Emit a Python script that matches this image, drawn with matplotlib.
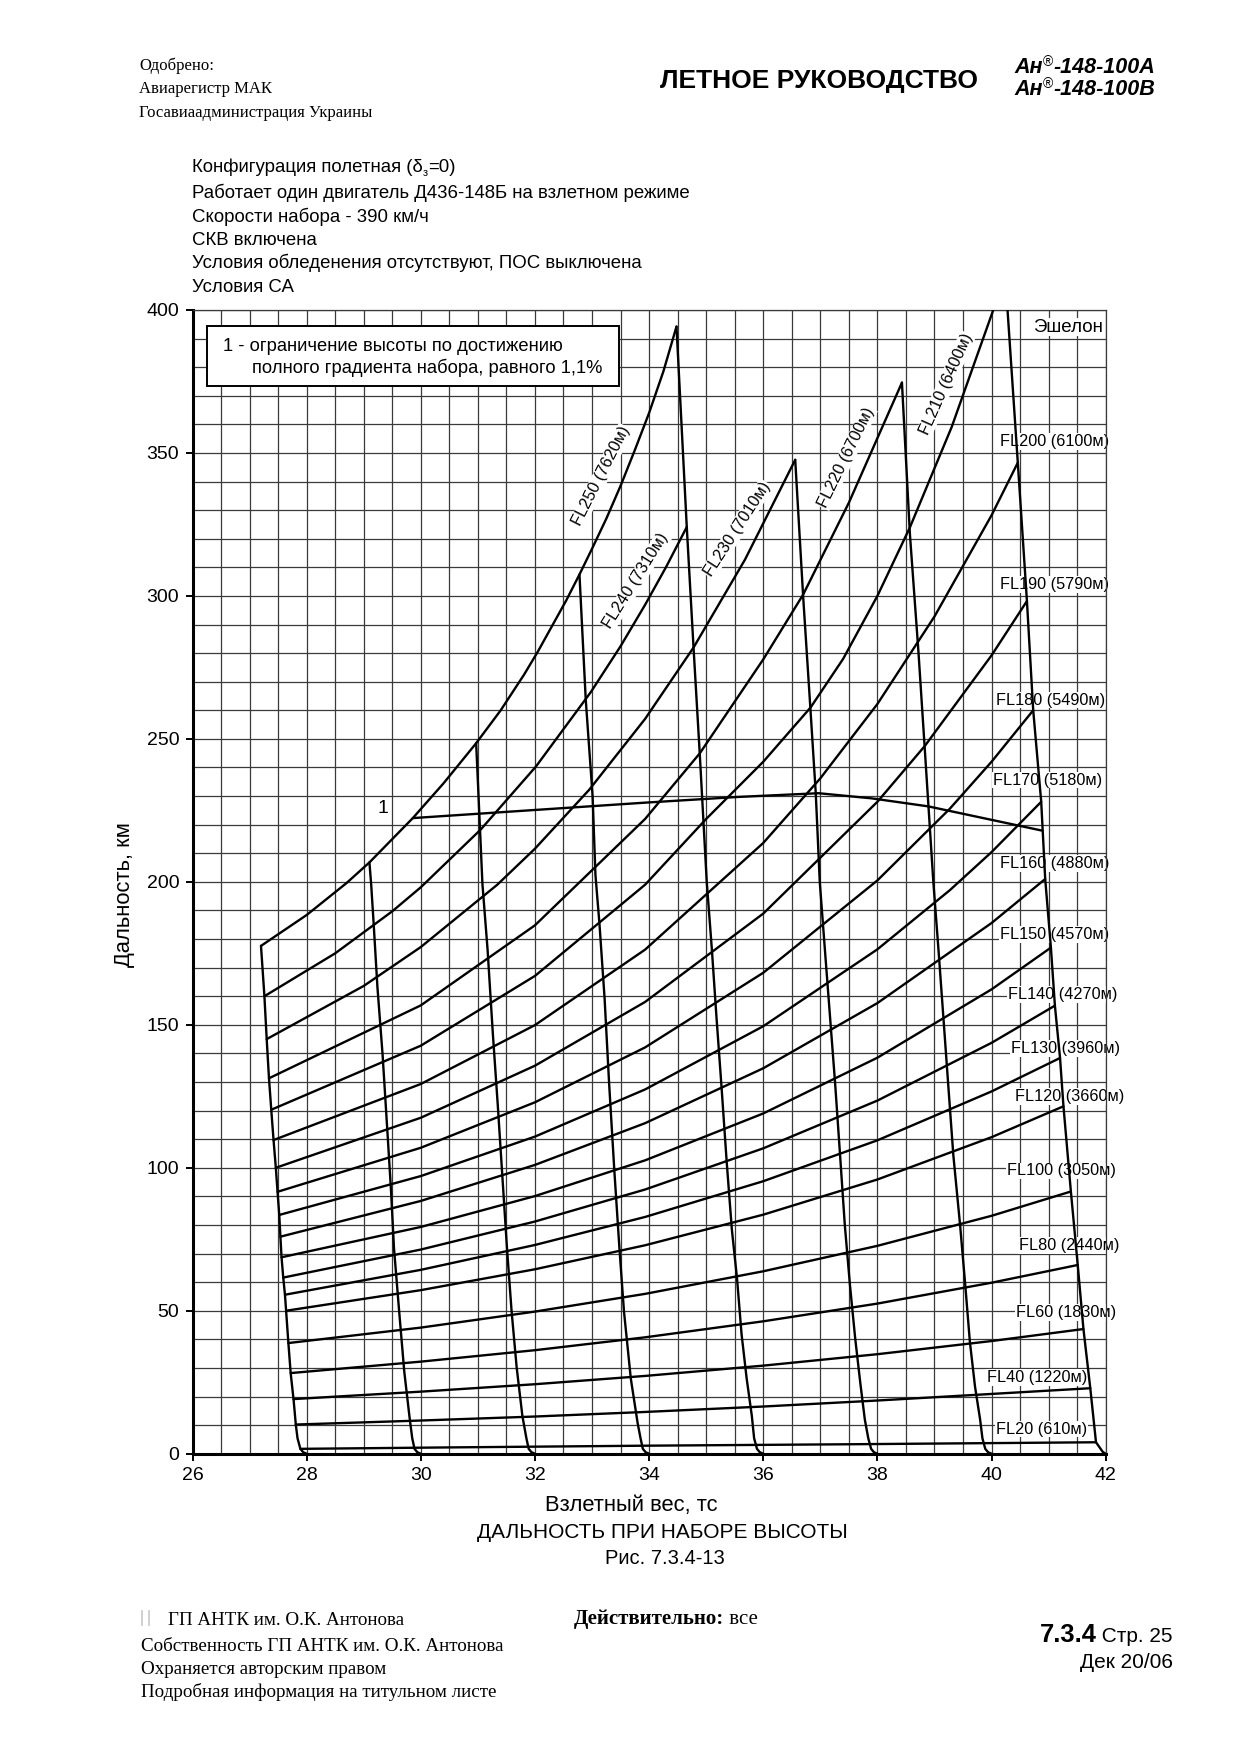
import matplotlib
matplotlib.use("Agg")
import matplotlib.pyplot as plt
from matplotlib.patches import Rectangle
from matplotlib.lines import Line2D
from matplotlib.ticker import MultipleLocator

plt.rcParams['font.family'] = ['Liberation Sans', 'DejaVu Sans']

# ------------------------------------------------------------------ data
x_ticks = [26, 28, 30, 32, 34, 36, 38, 40, 42]
y_ticks = [0, 50, 100, 150, 200, 250, 300, 350, 400]

# flight-level curves: takeoff weight (t) -> climb distance (km)
fl20_w = [27.89, 30.5, 33.93, 37.5, 41.83]
fl20_d = [1.7, 2.2, 2.8, 3.3, 4.0]
fl40_w = [27.81, 30, 32, 33.93, 36, 38, 40, 41.73]
fl40_d = [10.2, 11.6, 13.0, 14.6, 16.5, 18.6, 20.9, 22.9]
fl60_w = [27.77, 30, 32, 33.93, 36, 38, 40, 41.61]
fl60_d = [19.1, 21.7, 24.3, 27.2, 30.8, 34.8, 39.4, 43.6]
fl80_w = [27.72, 30, 32, 33.93, 36, 38, 40, 41.51]
fl80_d = [28.2, 32.2, 36.2, 40.7, 46.3, 52.5, 59.8, 66.0]
fl100_w = [27.68, 30, 32, 33.93, 36, 38, 40, 41.39]
fl100_d = [38.7, 44.1, 49.7, 55.9, 63.8, 72.7, 83.2, 91.7]
fl120_w = [27.64, 30, 32, 33.93, 36, 38, 40, 41.26]
fl120_d = [50.0, 57.2, 64.5, 72.9, 83.6, 95.9, 110.7, 121.5]
fl130_w = [27.62, 30, 32, 33.93, 36, 38, 40, 41.20]
fl130_d = [55.6, 64.3, 73.0, 82.8, 95.3, 109.6, 126.7, 138.4]
fl140_w = [27.59, 30, 32, 33.93, 36, 38, 40, 41.11]
fl140_d = [61.6, 71.4, 81.2, 92.4, 106.8, 123.5, 143.7, 156.7]
fl150_w = [27.56, 30, 32, 33.93, 36, 38, 40, 41.04]
fl150_d = [68.7, 79.3, 90.1, 102.6, 119.0, 138.5, 162.4, 177.0]
fl160_w = [27.54, 30, 32, 33.93, 36, 38, 40, 40.94]
fl160_d = [75.9, 88.4, 101.0, 115.6, 134.8, 157.6, 185.6, 201.0]
fl170_w = [27.52, 30, 32, 33.93, 36, 38, 39.27, 40, 40.87]
fl170_d = [83.5, 97.1, 110.9, 127.4, 149.5, 176.4, 197.1, 210.4, 228.0]
fl180_w = [27.49, 30, 32, 33.93, 36, 38, 39.27, 40, 40.73]
fl180_d = [91.6, 107.0, 122.9, 142.1, 168.2, 200.5, 225.6, 242.0, 260.0]
fl190_w = [27.46, 30, 32, 33.93, 36, 38, 38.83, 40, 40.62]
fl190_d = [100.0, 117.5, 135.7, 158.0, 188.9, 228.0, 247.5, 279.2, 298.2]
fl200_w = [27.42, 30, 32, 33.93, 36, 37, 38, 39, 40, 40.46]
fl200_d = [109.7, 129.3, 149.9, 176.3, 213.6, 236.2, 262.2, 292.8, 328.2, 346.6]
fl210_w = [27.38, 30, 32, 33.93, 35.0, 36.0, 36.83, 37.4, 38.0, 38.57, 39.3, 40.03, 40.23]
fl210_d = [120.3, 142.7, 167.1, 199.0, 222.0, 242.0, 261.0, 278.0, 300.0, 324.0, 359.0,
           400.0, 413.0]
fl220_w = [27.34, 30, 32, 33.93, 34.89, 36, 36.7, 37.5, 38.43]
fl220_d = [131.3, 156.8, 184.8, 222.0, 245.0, 277.8, 300.5, 332.6, 374.6]
fl230_w = [27.30, 29, 30, 31.34, 32, 32.95, 33.93, 34.78, 35.68, 36.56]
fl230_d = [145.0, 163.6, 177.2, 199.0, 211.6, 232.2, 257.0, 282.0, 312.7, 347.6]
fl240_w = [27.26, 28.5, 29.5, 30.0, 31.05, 32.02, 32.98, 33.5, 33.93, 34.3, 34.66]
fl240_d = [160.0, 175.0, 189.7, 198.1, 218.3, 240.4, 266.4, 282.4, 296.9, 310.2, 324.1]
fl250_w = [27.20, 28.0, 28.7, 29.1, 29.86, 30.4, 30.97, 31.4, 31.81, 32.05, 32.3, 32.55,
           32.78, 33.0, 33.25, 33.5, 33.75, 34.0, 34.25, 34.48]
fl250_d = [177.6, 188.4, 199.6, 206.8, 222.3, 234.5, 248.5, 260.0, 272.5, 280.5, 289.5,
           298.5, 307.5, 316.5, 327.0, 338.5, 351.0, 364.0, 378.5, 394.2]

# constant takeoff-weight guide lines
g28_w = [28.0, 27.94, 27.89, 27.84, 27.81, 27.77, 27.72, 27.68, 27.64, 27.62, 27.59,
         27.56, 27.54, 27.52, 27.49, 27.46, 27.42, 27.38, 27.34, 27.30, 27.26, 27.20]
g28_d = [0, 0.5, 1.7, 5.4, 10.2, 19.1, 28.2, 38.7, 50.0, 55.6, 61.6,
         68.7, 75.9, 83.5, 91.6, 100.0, 109.7, 120.3, 131.3, 145.0, 160.0, 177.6]
g30_w = [30.0, 29.94, 29.89, 29.85, 29.80, 29.71, 29.62, 29.53, 29.48, 29.42, 29.33,
         29.24, 29.17, 29.13, 29.10]
g30_d = [0, 0.5, 1.7, 5.4, 13.2, 28.8, 50.0, 71.9, 91.4, 111.0, 139.7,
         163.2, 186.7, 199.2, 206.8]
g32_w = [32.0, 31.94, 31.89, 31.85, 31.78, 31.68, 31.59, 31.51, 31.43, 31.35, 31.26,
         31.17, 31.08, 30.97]
g32_d = [0, 0.5, 1.7, 5.4, 13.2, 30.1, 50.0, 71.9, 96.7, 121.5, 147.6,
         176.3, 199.2, 248.5]
g34_w = [34.0, 33.94, 33.89, 33.85, 33.80, 33.68, 33.56, 33.48, 33.39, 33.30, 33.22,
         33.13, 33.06, 33.01, 32.89, 32.78]
g34_d = [0, 0.5, 1.7, 5.4, 10.6, 26.2, 49.7, 71.9, 99.3, 129.3, 159.3,
         185.4, 202.4, 230.0, 263.7, 307.5]
g36_w = [36.0, 35.94, 35.89, 35.84, 35.80, 35.71, 35.62, 35.54, 35.45, 35.36, 35.27,
         35.18, 35.10, 35.01, 34.89, 34.78, 34.66, 34.48]
g36_d = [0, 0.5, 1.7, 5.4, 13.2, 26.2, 41.8, 61.4, 78.4, 101.9, 128.0,
         152.8, 176.3, 200.0, 243.9, 281.4, 324.1, 394.2]
g38_w = [38.0, 37.94, 37.89, 37.84, 37.78, 37.70, 37.61, 37.52, 37.43, 37.35, 37.26,
         37.17, 37.08, 36.99, 36.92, 36.83, 36.70, 36.56]
g38_d = [0, 0.5, 1.7, 5.4, 11.9, 24.8, 40.5, 58.8, 79.7, 103.2, 129.3,
         152.8, 176.3, 200.0, 231.0, 259.4, 299.5, 347.6]
g40_w = [40.0, 39.94, 39.89, 39.84, 39.80, 39.71, 39.62, 39.54, 39.45, 39.33, 39.24,
         39.16, 39.07, 38.98, 38.83, 38.72, 38.57, 38.43]
g40_d = [0, 0.5, 1.7, 5.4, 11.9, 23.5, 39.2, 58.8, 79.7, 104.5, 129.3,
         151.5, 176.3, 200.0, 246.5, 280.2, 321.5, 374.6]
g42_w = [42.0, 41.95, 41.90, 41.83, 41.73, 41.61, 41.51, 41.39, 41.26, 41.20, 41.11,
         41.04, 40.94, 40.87, 40.73, 40.62, 40.46, 40.28, 40.23]
g42_d = [0, 0.6, 2.0, 4.0, 22.9, 43.6, 66.0, 91.7, 121.5, 138.4, 156.7,
         177.0, 201.0, 228.0, 260.0, 298.2, 346.6, 400.0, 413.0]

# limit line "1" (full climb gradient 1.1 %)
lim1_w = [29.86, 33.93, 35.56, 36.97, 37.9, 38.89, 40.89]
lim1_d = [222.3, 227.7, 229.7, 231.0, 229.2, 226.4, 217.9]

# labels
right_labels = ['FL200 (6100м)', 'FL190 (5790м)', 'FL180 (5490м)', 'FL170 (5180м)',
                'FL160 (4880м)', 'FL150 (4570м)', 'FL140 (4270м)', 'FL130 (3960м)',
                'FL120 (3660м)', 'FL100 (3050м)', 'FL80 (2440м)', 'FL60 (1830м)',
                'FL40 (1220м)', 'FL20 (610м)']
rot_labels = ['FL250 (7620м)', 'FL240 (7310м)', 'FL230 (7010м)', 'FL220 (6700м)',
              'FL210 (6400м)']

# ------------------------------------------------------------ layout only
right_label_pos = [(41.10, 354.0), (41.11, 303.9), (41.03, 263.6), (40.98, 235.6),
                   (41.11, 206.5), (41.10, 181.6), (41.24, 160.6), (41.29, 141.8),
                   (41.36, 125.0), (41.22, 98.9), (41.36, 72.8), (41.31, 49.4),
                   (40.79, 26.7), (40.88, 8.6)]
rot_label_pos = [(33.16, 342.0, 63), (33.77, 305.3, 58), (35.54, 323.4, 57),
                 (37.45, 348.4, 64), (39.20, 374.1, 66)]

W_PX, H_PX, DPI = 1240, 1755, 100
fig = plt.figure(figsize=(W_PX / DPI, H_PX / DPI), dpi=DPI)
fig.patch.set_facecolor('white')

AX_L, AX_R, AX_T, AX_B = 192.5, 1105.7, 310.0, 1453.7
ax = fig.add_axes([AX_L / W_PX, 1 - AX_B / H_PX, (AX_R - AX_L) / W_PX, (AX_B - AX_T) / H_PX])
ax.set_xlim(26, 42)
ax.set_ylim(0, 400)
ax.set_xticks(x_ticks)
ax.set_yticks(y_ticks)
ax.xaxis.set_minor_locator(MultipleLocator(0.5))
ax.yaxis.set_minor_locator(MultipleLocator(10))
GRID = '#3a3a3a'
ax.grid(which='both', color=GRID, lw=0.9)
ax.set_axisbelow(True)
ax.tick_params(which='major', direction='out', length=5, width=1.4, labelsize=14,
               pad=4.5, colors='black')
ax.tick_params(which='minor', length=0)
for s in ['left', 'bottom']:
    ax.spines[s].set_linewidth(2.2)
    ax.spines[s].set_color('black')
for s in ['top', 'right']:
    ax.spines[s].set_linewidth(0.9)
    ax.spines[s].set_color(GRID)

curves = [
    (fl20_w, fl20_d), (fl40_w, fl40_d), (fl60_w, fl60_d), (fl80_w, fl80_d),
    (fl100_w, fl100_d), (fl120_w, fl120_d), (fl130_w, fl130_d), (fl140_w, fl140_d),
    (fl150_w, fl150_d), (fl160_w, fl160_d), (fl170_w, fl170_d), (fl180_w, fl180_d),
    (fl190_w, fl190_d), (fl200_w, fl200_d), (fl210_w, fl210_d), (fl220_w, fl220_d),
    (fl230_w, fl230_d), (fl240_w, fl240_d), (fl250_w, fl250_d),
    (g28_w, g28_d), (g30_w, g30_d), (g32_w, g32_d), (g34_w, g34_d),
    (g36_w, g36_d), (g38_w, g38_d), (g40_w, g40_d), (g42_w, g42_d),
    (lim1_w, lim1_d),
]
for w, d in curves:
    ax.plot(w, d, color='black', lw=1.7, zorder=3, solid_capstyle='round',
            solid_joinstyle='round')

LBL = dict(fontsize=11.7, color='black', zorder=2.5,
           bbox=dict(facecolor='white', edgecolor='none', pad=0.6))
for txt, (x, y) in zip(right_labels, right_label_pos):
    ax.text(x, y, txt, ha='center', va='center', clip_on=False, **LBL)
for txt, (x, y, r) in zip(rot_labels, rot_label_pos):
    ax.text(x, y, txt, ha='center', va='center', rotation=r, rotation_mode='anchor', **LBL)
ax.text(41.34, 394.0, 'Эшелон', ha='center', va='center',
        **dict(LBL, fontsize=13.5))
ax.text(29.33, 225.5, '1', ha='center', va='center', fontsize=14, zorder=4)

ax.add_patch(Rectangle((26.25, 373.4), 33.48 - 26.25, 394.4 - 373.4, facecolor='white',
                       edgecolor='black', lw=1.4, zorder=4))
ax.text(26.54, 387.2, '1 - ограничение высоты по достижению', fontsize=13.2,
        va='center', ha='left', zorder=5)
ax.text(27.04, 379.6, 'полного градиента набора, равного 1,1%', fontsize=13.2,
        va='center', ha='left', zorder=5)

# ------------------------------------------------------------ page texts
def fx(x):
    return x / W_PX


def fy(y):
    return 1 - y / H_PX


renderer = fig.canvas.get_renderer()


def rich(x_px, y_px, pieces, ha='left'):
    objs = []
    total = 0.0
    for s, kw, dy in pieces:
        t = fig.text(0, 0, s, ha='left', va='baseline', **kw)
        w = t.get_window_extent(renderer=renderer).width
        objs.append((t, dy, w))
        total += w
    if ha == 'right':
        x0 = x_px - total
    elif ha == 'center':
        x0 = x_px - total / 2
    else:
        x0 = x_px
    for t, dy, w in objs:
        t.set_position((fx(x0), fy(y_px - dy)))
        x0 += w


SERIF = ['Liberation Serif', 'DejaVu Serif']
fig.text(fx(139), fy(70), 'Одобрено:', family=SERIF, fontsize=12, va='baseline')
fig.text(fx(139), fy(93), 'Авиарегистр МАК', family=SERIF, fontsize=12, va='baseline')
fig.text(fx(139), fy(117), 'Госавиаадминистрация Украины', family=SERIF, fontsize=12,
         va='baseline')
fig.text(fx(819), fy(88), 'ЛЕТНОЕ РУКОВОДСТВО', fontsize=19, weight='bold',
         ha='center', va='baseline')

BI = dict(fontsize=15.5, weight='bold', style='italic')
SUP = dict(fontsize=10)
rich(1155, 73, [('Ан', BI, 0), ('®', SUP, 7), ('-148-100А', BI, 0)], ha='right')
rich(1155, 95, [('Ан', BI, 0), ('®', SUP, 7), ('-148-100В', BI, 0)], ha='right')

COND = dict(fontsize=13.4)
rich(192.5, 172, [('Конфигурация полетная (δ', COND, 0), ('з', dict(fontsize=8), -4),
                  ('=0)', COND, 0)])
cond_lines = ['Работает один двигатель Д436-148Б на взлетном режиме',
              'Скорости набора - 390 км/ч',
              'СКВ включена',
              'Условия обледенения отсутствуют, ПОС выключена',
              'Условия СА']
for i, s in enumerate(cond_lines):
    fig.text(fx(192.5), fy(198.5 + i * 23.3), s, fontsize=13.4, va='baseline')

fig.text(fx(125), fy(895), 'Дальность, км', fontsize=15.8, rotation=90, ha='center',
         va='center')
fig.text(fx(631), fy(1506), 'Взлетный вес, тс', fontsize=15.8, ha='center', va='center')
fig.text(fx(662), fy(1533), 'ДАЛЬНОСТЬ ПРИ НАБОРЕ ВЫСОТЫ', fontsize=15, ha='center',
         va='center')
fig.text(fx(665), fy(1558), 'Рис. 7.3.4-13', fontsize=14.5, ha='center', va='center')

# footer
for xb in (142, 149):
    fig.add_artist(Line2D([fx(xb), fx(xb)], [fy(1611), fy(1625)], color='#c8c8c8', lw=1.2))
FS = 13.7
fig.text(fx(168), fy(1625), 'ГП АНТК им. О.К. Антонова', family=SERIF, fontsize=FS,
         va='baseline')
fig.text(fx(141), fy(1651), 'Собственность ГП АНТК им. О.К. Антонова', family=SERIF,
         fontsize=FS, va='baseline')
fig.text(fx(141), fy(1674), 'Охраняется авторским правом', family=SERIF, fontsize=FS,
         va='baseline')
fig.text(fx(141), fy(1697), 'Подробная информация на титульном листе', family=SERIF,
         fontsize=FS, va='baseline')
rich(574, 1624, [('Действительно:', dict(family=SERIF, fontsize=15, weight='bold'), 0),
                 (' все', dict(family=SERIF, fontsize=15), 0)])
rich(1173, 1642, [('7.3.4', dict(fontsize=18.4, weight='bold'), 0),
                  (' Стр. 25', dict(fontsize=15), 0)], ha='right')
fig.text(fx(1173), fy(1668), 'Дек 20/06', fontsize=15, ha='right', va='baseline')

fig.savefig('out.png', dpi=DPI, facecolor='white')
